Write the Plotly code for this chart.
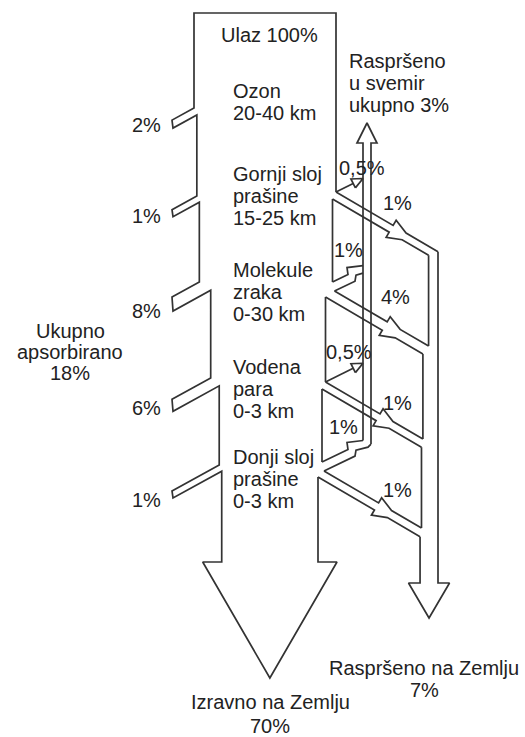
import math
import plotly.graph_objects as go

# ---------------- data ----------------
input_total = 100
layer_lines = [
    ["Ozon", "20-40 km"],
    ["Gornji sloj", "prašine", "15-25 km"],
    ["Molekule", "zraka", "0-30 km"],
    ["Vodena", "para", "0-3 km"],
    ["Donji sloj", "prašine", "0-3 km"],
]
absorbed = [2, 1, 8, 6, 1]          # % absorbed in each layer
to_space = [0, 0.5, 1, 0.5, 1]      # % scattered back to space
to_earth = [0, 1, 4, 1, 1]          # % scattered down to Earth
total_absorbed = 18
total_space = 3
total_earth = 7
direct = 70

label_in = "Ulaz"
label_absorbed = ["Ukupno", "apsorbirano"]
label_space = ["Raspršeno", "u svemir", "ukupno"]
label_earth = "Raspršeno na Zemlju"
label_direct = "Izravno na Zemlju"


def pct(v):
    return f"{v:g}".replace(".", ",") + "%"


# ---------------- layout geometry (pixels) ----------------
W, H = 525, 737
PX = 1.42                 # pixels per percent
beam_top = 13
beam_left = 194
beam_right = beam_left + PX * input_total
text_x = 231
layer_text_y = [91, 174, 270, 367, 457]
line_gap = 22
notch_y = [108, 196, 282, 378, 465]
notch_tip_x = 172
notch_slope = 0.55
branch_y = [None, 192, 282, 382, 462]
rib_slope = 0.585
shaft_l, shaft_r = 363, 371
shaft_head_y, shaft_tip_y = 143, 123
chan_outer = 438
chan_head_y, chan_tip_y = 583, 618
main_head_y, main_tip_y = 562, 678
absorbed_label_x = 163
absorbed_label_y = [125, 216, 311, 408, 500]
up_label_xy = [None, (362, 168), (348, 250), (349, 352), (343, 427)]
down_label_xy = [None, (397, 203), (395, 297), (397, 403), (397, 490)]

polys = []

# ---- left wall with absorption notches ----
xl = beam_left
left = [(beam_right, branch_y[1]), (beam_right, beam_top), (beam_left, beam_top)]
for i, a in enumerate(absorbed):
    yb = notch_y[i]
    left.append((xl, yb))
    ty = yb + notch_slope * (xl - notch_tip_x)
    h = 6 + a
    left.append((notch_tip_x, ty))
    left.append((notch_tip_x + 1, ty + h))
    xn = xl + max(2.5, PX * a)
    left.append((xn, ty + h - notch_slope * (xn - notch_tip_x - 1)))
    xl = xn

# ---- right side: scattering ----
norm = math.hypot(1, rib_slope)
dvec = (1 / norm, rib_slope / norm)
nvec = (-rib_slope / norm, 1 / norm)

xr = beam_right
cum_down = 0
prev_lo_end = None
first_up_end = None
last_broad = max(i for i in range(5) if to_space[i] >= 1)
shaft_bottom_l = shaft_bottom_r = None
prev_N = None
for i in range(1, 5):
    yb = branch_y[i]
    u, d = to_space[i], to_earth[i]
    Wp = (xr, yb)
    if prev_N is not None:
        polys.append([prev_N, Wp])
    xr_new = xr - (2 + u + d)
    broad = u >= 1
    if broad:
        J = (xr + 2, yb + 9)
        N = (xr_new, yb + 15)
    else:
        J = Wp
        N = (xr_new, yb + 7)
    # ribbon down to the right channel
    x_up_end = chan_outer if prev_lo_end is None else prev_lo_end[0]
    cum_down += d
    x_lo_end = chan_outer - 8 - PX * cum_down
    U_end = (x_up_end, J[1] + rib_slope * (x_up_end - J[0]))
    L_end = (x_lo_end, N[1] + rib_slope * (x_lo_end - N[0]))
    Lup = math.hypot(U_end[0] - J[0], U_end[1] - J[1])
    s_h = 0.56 * Lup
    U0 = (J[0] + dvec[0] * s_h, J[1] + dvec[1] * s_h)
    U1 = (U0[0] - nvec[0] * 6, U0[1] - nvec[1] * 6)
    U2 = (U0[0] + dvec[0] * 15, U0[1] + dvec[1] * 15)
    wid = (N[0] - J[0]) * nvec[0] + (N[1] - J[1]) * nvec[1]
    L0 = (U0[0] + nvec[0] * wid, U0[1] + nvec[1] * wid)
    L1 = (L0[0] + nvec[0] * 6, L0[1] + nvec[1] * 6)
    L2 = (L0[0] + dvec[0] * 15, L0[1] + dvec[1] * 15)
    polys.append([J, U0, U1, U2, U_end])
    polys.append([N, L0, L1, L2, L_end])
    if prev_lo_end is None:
        first_up_end = U_end
    else:
        polys.append([prev_lo_end, U_end])
    prev_lo_end = L_end
    # up-scatter to space
    if broad:
        B1 = (shaft_l - 15, yb - 0.48 * (shaft_l - 15 - xr))
        B2 = (B1[0] - 1, B1[1] - 7)
        B3 = (shaft_l, B2[1] - 2)
        polys.append([Wp, B1, B2, B3])
        C1 = (shaft_l - 8, J[1] - 0.48 * (shaft_l - 8 - J[0]))
        C2 = (C1[0] + 1, C1[1] - 6)
        if i == last_broad:
            C3 = (shaft_l + 5, C2[1] - 3)
            C4 = (shaft_r, C2[1] - 6)
            polys.append([J, C1, C2, C3, C4])
            shaft_bottom_l, shaft_bottom_r = B3, C4
        else:
            polys.append([J, C1, C2, (shaft_l, C2[1] - 2)])
    else:
        T = (shaft_l, J[1] - 0.5 * (shaft_l - J[0]))
        ex, ey = T[0] - J[0], T[1] - J[1]
        el = math.hypot(ex, ey)
        ex, ey = ex / el, ey / el
        base = (T[0] - ex * 11, T[1] - ey * 11)
        p1 = (base[0] - ey * 5, base[1] + ex * 5)
        p2 = (base[0] + ey * 5, base[1] - ex * 5)
        polys.append([J, base])
        polys.append([p1, T, p2, p1])
    prev_N = N
    xr = xr_new

# main beam outline down to the big arrow head
cx = (xl + xr) / 2
left += [(xl, main_head_y), (xl - 19, main_head_y), (cx, main_tip_y),
         (xr + 19, main_head_y), (xr, main_head_y), prev_N]
polys.append(left)

# up shaft to space
scx = (shaft_l + shaft_r) / 2
polys.append([shaft_bottom_l, (shaft_l, shaft_head_y), (shaft_l - 6, shaft_head_y),
              (scx, shaft_tip_y), (shaft_r + 6, shaft_head_y), (shaft_r, shaft_head_y),
              shaft_bottom_r])

# channel down to Earth
ccx = (prev_lo_end[0] + chan_outer) / 2
polys.append([prev_lo_end, (prev_lo_end[0], chan_head_y), (ccx - 20.5, chan_head_y),
              (ccx, chan_tip_y), (ccx + 20.5, chan_head_y), (chan_outer, chan_head_y),
              first_up_end])

xs, ys = [], []
for p in polys:
    for (x, y) in p:
        xs.append(x)
        ys.append(y)
    xs.append(None)
    ys.append(None)

fig = go.Figure()
fig.add_trace(go.Scatter(x=xs, y=ys, mode="lines",
                         line=dict(color="#333333", width=1.7),
                         hoverinfo="skip", showlegend=False))

FONT = dict(family="Liberation Sans, Arial, sans-serif", size=20, color="#222")
ann = []


def text(x, y, s, anchor="center"):
    ann.append(dict(x=x, y=y, text=s, showarrow=False, xanchor=anchor,
                    yanchor="middle", font=FONT, xref="x", yref="y"))


text(269, 35, f"{label_in} {pct(input_total)}")
for i, lines in enumerate(layer_lines):
    for k, s in enumerate(lines):
        text(text_x, layer_text_y[i] + k * line_gap, s, "left")
for i, a in enumerate(absorbed):
    text(absorbed_label_x, absorbed_label_y[i], pct(a), "right")
text(70, 331, label_absorbed[0])
text(70, 352, label_absorbed[1])
text(70, 373, pct(total_absorbed))
text(347, 61, label_space[0], "left")
text(347, 83, label_space[1], "left")
text(347, 105, f"{label_space[2]} {pct(total_space)}", "left")
for i in range(1, 5):
    text(up_label_xy[i][0], up_label_xy[i][1], pct(to_space[i]))
    text(down_label_xy[i][0], down_label_xy[i][1], pct(to_earth[i]))
text(424, 668, label_earth)
text(424, 690, pct(total_earth))
text(270, 702, label_direct)
text(270, 725.5, pct(direct))

fig.update_layout(
    width=W, height=H, margin=dict(l=0, r=0, t=0, b=0),
    paper_bgcolor="white", plot_bgcolor="white",
    xaxis=dict(range=[0, W], visible=False, fixedrange=True),
    yaxis=dict(range=[H, 0], visible=False, fixedrange=True),
    annotations=ann, showlegend=False,
)
fig.write_html("out.html", config={"displayModeBar": False},
               post_script="document.body.style.margin='0';document.body.style.overflow='hidden';")
